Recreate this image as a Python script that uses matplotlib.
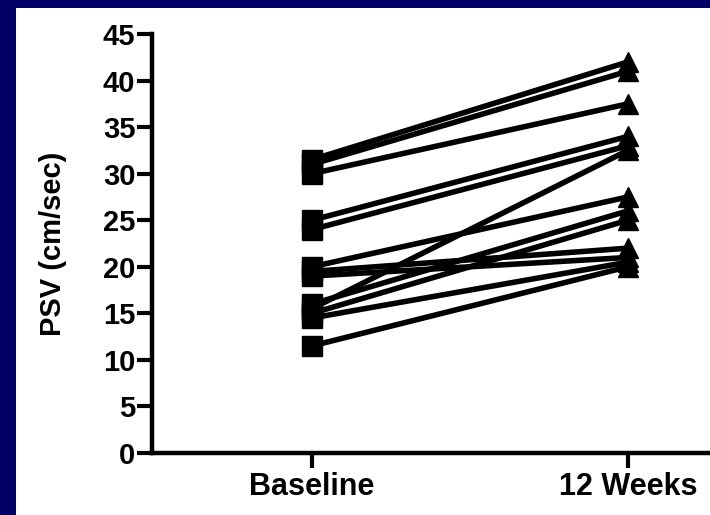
import numpy as np
import matplotlib.pyplot as plt
from matplotlib.patches import Rectangle

# PSV per subject, baseline vs 12 weeks
groups = ["Baseline", "12 Weeks"]
baseline = [31.5, 31.0, 30.0, 25.0, 24.0, 20.0, 19.5, 19.0, 16.0, 15.5, 15.0, 14.5, 11.5]
week12 = [42.0, 41.0, 37.5, 34.0, 33.0, 27.5, 22.0, 21.0, 26.0, 32.5, 25.0, 20.5, 20.0]
yticks = [0, 5, 10, 15, 20, 25, 30, 35, 40, 45]

plt.rcParams['font.family'] = ['Liberation Sans', 'DejaVu Sans']
plt.rcParams['font.weight'] = 'bold'

fig = plt.figure(figsize=(7.1, 5.15), dpi=100, facecolor='#000066')
# white slide area (navy strip on top and left)
fig.add_artist(Rectangle((16 / 710, 0), 1 - 16 / 710, 1 - 8 / 515,
                         transform=fig.transFigure, facecolor='white',
                         edgecolor='none', zorder=-10))

ax = fig.add_axes([152 / 710, 62 / 515, 1 - 152 / 710, 419 / 515])
ax.set_facecolor('none')

x = np.arange(len(groups))
for b, w in zip(baseline, week12):
    ax.plot(x, [b, w], color='black', linewidth=4, solid_capstyle='butt',
            clip_on=False, zorder=2)
ax.plot(np.zeros(len(baseline)), baseline, 's', color='black', markersize=14,
        clip_on=False, zorder=3)
ax.plot(np.ones(len(week12)), week12, '^', color='black', markersize=15,
        clip_on=False, zorder=3)

ax.set_xlim(-0.506, 1.26)
ax.set_ylim(0, 45)
ax.set_xticks(x)
ax.set_xticklabels(groups)
ax.set_yticks(yticks)

for side in ['top', 'right']:
    ax.spines[side].set_visible(False)
for side in ['left', 'bottom']:
    ax.spines[side].set_linewidth(3.2)

ax.tick_params(axis='y', length=11, width=3, pad=1, labelsize=21)
ax.tick_params(axis='x', length=11, width=3, pad=3, labelsize=22)
for lab in ax.get_xticklabels() + ax.get_yticklabels():
    lab.set_fontweight('bold')

ax.set_ylabel("PSV (cm/sec)", fontsize=21, fontweight='bold', labelpad=26)

plt.savefig("out.png", dpi=100, facecolor=fig.get_facecolor())
